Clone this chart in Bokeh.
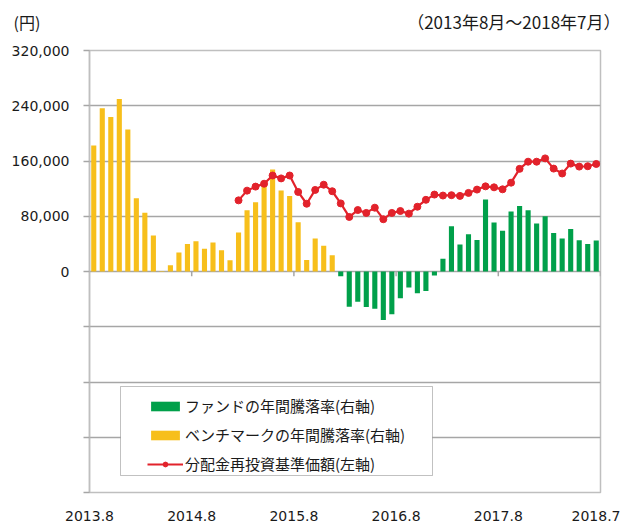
import math
from bokeh.plotting import figure
from bokeh.models import (Range1d, FixedTicker, Label, Legend, LegendItem,
                          BoxAnnotation, ColumnDataSource)
from bokeh.embed import file_html
from bokeh.resources import INLINE

NaN = float("nan")

# 60 months: 2013.8 ... 2018.7
month_index = list(range(60))
tick_pos = [0, 12, 24, 36, 48, 60]
tick_labels = ["2013.8", "2014.8", "2015.8", "2016.8", "2017.8", "2018.7"]

# Benchmark annual change (right axis, %), months 1-29
benchmark = [57.0, 73.9, 69.9, 78.0, 64.2, 33.1, 26.6, 16.3, 0.2, 2.8,
             8.6, 12.4, 13.7, 10.3, 13.1, 9.6, 5.1, 17.7, 27.7, 31.3,
             38.7, 46.1, 36.6, 34.2, 22.3, 5.2, 14.9, 11.6, 7.3] + [NaN] * 31

# Fund annual change (right axis, %), months 30-60
fund = [NaN] * 29 + [-2.2, -15.9, -13.7, -16.1, -16.8, -22.0, -19.3, -12.1, -7.2, -9.8,
                     -8.8, -1.8, 5.8, 20.5, 12.2, 16.8, 14.3, 32.6, 22.2, 18.4,
                     27.1, 29.6, 27.7, 21.7, 25.0, 17.4, 14.9, 19.2, 14.1, 12.5, 14.0]

# NAV incl. reinvested distributions (left axis, yen), months 18-60
nav = [NaN] * 17 + [103000, 117100, 122900, 127100, 139000, 134800, 139000, 115200, 98100, 118100,
                    125700, 116200, 98600, 79000, 89000, 84800, 92400, 75700, 84800, 87600,
                    83800, 93800, 103800, 111400, 110000, 110500, 109500, 113800, 118600, 123300,
                    121900, 119000, 128600, 148600, 159000, 159000, 163800, 149000, 141900, 156200,
                    151900, 152400, 155700]

y_ticks = [-320000, -240000, -160000, -80000, 0, 80000, 160000, 240000, 320000]

GREEN = "#00A04A"
YELLOW = "#F7BF1B"
RED = "#E2222B"
GRID = "#a6a6a6"
CJK = "Noto Sans CJK JP"
NUM = "DejaVu Sans"

xc = [m + 0.5 for m in month_index]
src = ColumnDataSource(dict(x=xc, bench=benchmark, fund=fund, nav=nav))

p = figure(width=620, height=523, output_backend="svg", toolbar_location=None,
           x_range=Range1d(0, 60), y_range=Range1d(-320000, 320000),
           min_border_left=89, min_border_right=20, min_border_top=50, min_border_bottom=29)
p.extra_y_ranges = {"pct": Range1d(-100, 100)}

p.background_fill_color = "white"
p.border_fill_color = "white"
p.outline_line_color = "#bfbfbf"
p.outline_line_width = 1.5

# grid
p.xgrid.visible = False
p.ygrid.ticker = FixedTicker(ticks=y_ticks)
p.ygrid.grid_line_color = GRID
p.ygrid.grid_line_width = 1.5

# y axis
ya = p.yaxis[0]
ya.ticker = FixedTicker(ticks=y_ticks)
ya.major_label_overrides = {v: (f"{v:,}" if v >= 0 else "") for v in y_ticks}
ya.axis_line_color = "#bfbfbf"
ya.axis_line_width = 1.5
ya.major_tick_line_color = GRID
ya.major_tick_line_width = 1.5
ya.major_tick_out = 6
ya.major_tick_in = 0
ya.minor_tick_line_color = None
ya.major_label_standoff = 14
ya.major_label_text_font = NUM
ya.major_label_text_font_size = "14px"
ya.major_label_text_color = "#1a1a1a"

# x axis
xa = p.xaxis[0]
xa.ticker = FixedTicker(ticks=tick_pos)
xa.major_label_overrides = dict(zip(tick_pos, tick_labels))
xa.axis_line_color = None
xa.major_tick_line_color = None
xa.minor_tick_line_color = None
xa.major_label_standoff = 12
xa.major_label_text_font = NUM
xa.major_label_text_font_size = "14px"
xa.major_label_text_color = "#1a1a1a"

# category ticks on the zero line
p.segment(x0=tick_pos[1:], y0=[0] * 5, x1=tick_pos[1:], y1=[-7000] * 5,
          line_color=GRID, line_width=1.5)

# bars
r_fund = p.vbar(x="x", top="fund", bottom=0, width=0.6, source=src,
                y_range_name="pct", fill_color=GREEN, line_color=None)
r_bench = p.vbar(x="x", top="bench", bottom=0, width=0.6, source=src,
                 y_range_name="pct", fill_color=YELLOW, line_color=None)

# NAV line
r_line = p.line(x="x", y="nav", source=src, line_color=RED, line_width=2.2)
r_pts = p.scatter(x="x", y="nav", source=src, size=7, fill_color=RED, line_color=RED)

# legend frame
box = BoxAnnotation(left=31, right=343, top=106, bottom=17,
                    left_units="screen", right_units="screen",
                    top_units="screen", bottom_units="screen",
                    fill_color="white", fill_alpha=1.0,
                    line_color="#333333", line_width=1)
p.add_layout(box)

legend = Legend(items=[
    LegendItem(label="ファンドの年間騰落率(右軸)", renderers=[r_fund]),
    LegendItem(label="ベンチマークの年間騰落率(右軸)", renderers=[r_bench]),
    LegendItem(label="分配金再投資基準価額(左軸)", renderers=[r_line, r_pts]),
], location=(58, 18), padding=0, margin=0, spacing=8,
    border_line_color=None, background_fill_alpha=0,
    glyph_width=36, glyph_height=12, label_height=20, label_standoff=2,
    label_text_font=CJK, label_text_font_size="15px", label_text_color="#1a1a1a")
p.add_layout(legend, "center")

# header texts (placed in the top panel, canvas coordinates)
p.add_layout(Label(x=13, y=21, x_units="canvas", y_units="canvas", text="(円)",
                   text_font=CJK, text_font_size="16px", text_baseline="middle",
                   text_align="left", text_color="#1a1a1a"), "above")
p.add_layout(Label(x=620, y=21, x_units="canvas", y_units="canvas",
                   text="（2013年8月～2018年7月）",
                   text_font=CJK, text_font_size="17px", text_baseline="middle",
                   text_align="right", text_color="#1a1a1a"), "above")

open("out.html", "w").write(file_html(p, INLINE))
